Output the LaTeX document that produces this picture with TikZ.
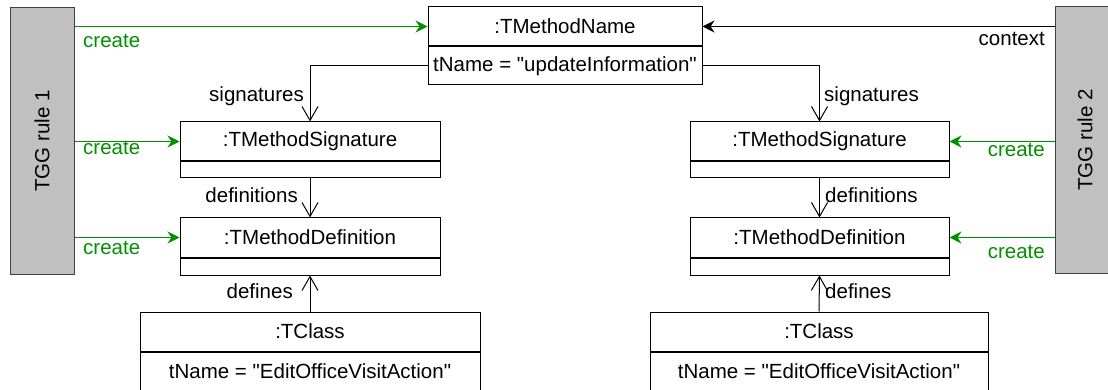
\documentclass[tikz,border=0pt]{standalone}
\usepackage{fontspec}
\setmainfont{Liberation Sans}
\usetikzlibrary{arrows.meta,calc,positioning}
\definecolor{creategreen}{RGB}{0,145,0}
\definecolor{rulegray}{RGB}{192,192,192}
\newcommand{\umlfont}{\fontsize{20.5}{24}\selectfont}

\begin{document}
\begin{tikzpicture}[
  x=1pt, y=-1pt,
  every node/.style={font=\umlfont, inner sep=0pt},
  classhead/.style={draw, line width=1pt, minimum height=39pt},
  classattr/.style={draw, line width=1pt},
  rulebox/.style={draw=black!75, fill=rulegray, line width=1pt, minimum width=64pt, minimum height=266pt},
  create/.style={draw=creategreen, line width=1pt, -{Stealth[length=12pt,width=12pt,inset=4pt]}},
  ctx/.style={draw, line width=1pt, -{Stealth[length=12pt,width=12pt,inset=4pt]}},
  assoc/.style={draw, line width=1pt, -{Straight Barb[length=14pt,width=16pt,line width=1pt]}},
  greenlbl/.style={text=creategreen}
]
\clip (0,0) rectangle (1108,390);

\node[rulebox] (rule1) at (42,141) {};
\node[rotate=90] at (rule1.center) {TGG rule 1};
\node[rulebox] (rule2) at (1087,140) {};
\node[rotate=90] at (1085,140) {TGG rule 2};

\node[classhead, minimum width=274pt] (mname) at (565,26.5) {:TMethodName};
\node[classattr, minimum width=274pt, minimum height=38pt, below=0pt of mname] (mnameattr) {tName = \textquotedbl updateInformation\textquotedbl};

\node[classhead, minimum width=260pt] (msigL) at (310,141.5) {:TMethodSignature};
\node[classattr, minimum width=260pt, minimum height=16pt, below=0pt of msigL] (msigLattr) {};
\node[classhead, minimum width=260pt] (mdefL) at (310,237.5) {:TMethodDefinition};
\node[classattr, minimum width=260pt, minimum height=17pt, below=0pt of mdefL] (mdefLattr) {};
\node[classhead, minimum width=340pt] (classL) at (310,331.5) {:TClass};
\node[classattr, minimum width=340pt, minimum height=38pt, below=0pt of classL] (classLattr) {tName = \textquotedbl EditOfficeVisitAction\textquotedbl};

\node[classhead, minimum width=259pt] (msigR) at (819.5,141.5) {:TMethodSignature};
\node[classattr, minimum width=259pt, minimum height=16pt, below=0pt of msigR] (msigRattr) {};
\node[classhead, minimum width=259pt] (mdefR) at (819.5,237.5) {:TMethodDefinition};
\node[classattr, minimum width=259pt, minimum height=17pt, below=0pt of mdefR] (mdefRattr) {};
\node[classhead, minimum width=338pt] (classR) at (819,331.5) {:TClass};
\node[classattr, minimum width=338pt, minimum height=38pt, below=0pt of classR] (classRattr) {tName = \textquotedbl EditOfficeVisitAction\textquotedbl};

\draw[create] (rule1.east |- mname.west) -- (mname.west);
\draw[create] (rule1.east |- msigL.west) -- (msigL.west);
\draw[create] (rule1.east |- mdefL.west) -- (mdefL.west);
\draw[create] (rule2.west |- msigR.east) -- (msigR.east);
\draw[create] (rule2.west |- mdefR.east) -- (mdefR.east);
\draw[ctx] (rule2.west |- mname.east) -- (mname.east);

\node[greenlbl, anchor=base west] at (83,48) {create};
\node[greenlbl, anchor=base west] at (83,155) {create};
\node[greenlbl, anchor=base west] at (83,254) {create};
\node[greenlbl, anchor=base east] at (1045,157) {create};
\node[greenlbl, anchor=base east] at (1045,258) {create};
\node[anchor=base east] at (1045,46) {context};

\draw[assoc] (mnameattr.west) -| (msigL.north);
\draw[assoc] (mnameattr.east) -| (msigR.north);
\draw[assoc] (msigLattr.south) -- (mdefL.north);
\draw[assoc] (msigRattr.south) -- (mdefR.north);
\draw[assoc] (classL.north) -- (mdefLattr.south);
\draw[assoc] (classR.north) -- (mdefRattr.south);

\node[anchor=base east] at (304,102) {signatures};
\node[anchor=base west] at (824,102) {signatures};
\node[anchor=base east] at (298,203) {definitions};
\node[anchor=base west] at (825,203) {definitions};
\node[anchor=base east] at (293,298) {defines};
\node[anchor=base west] at (825,298) {defines};
\end{tikzpicture}
\end{document}
